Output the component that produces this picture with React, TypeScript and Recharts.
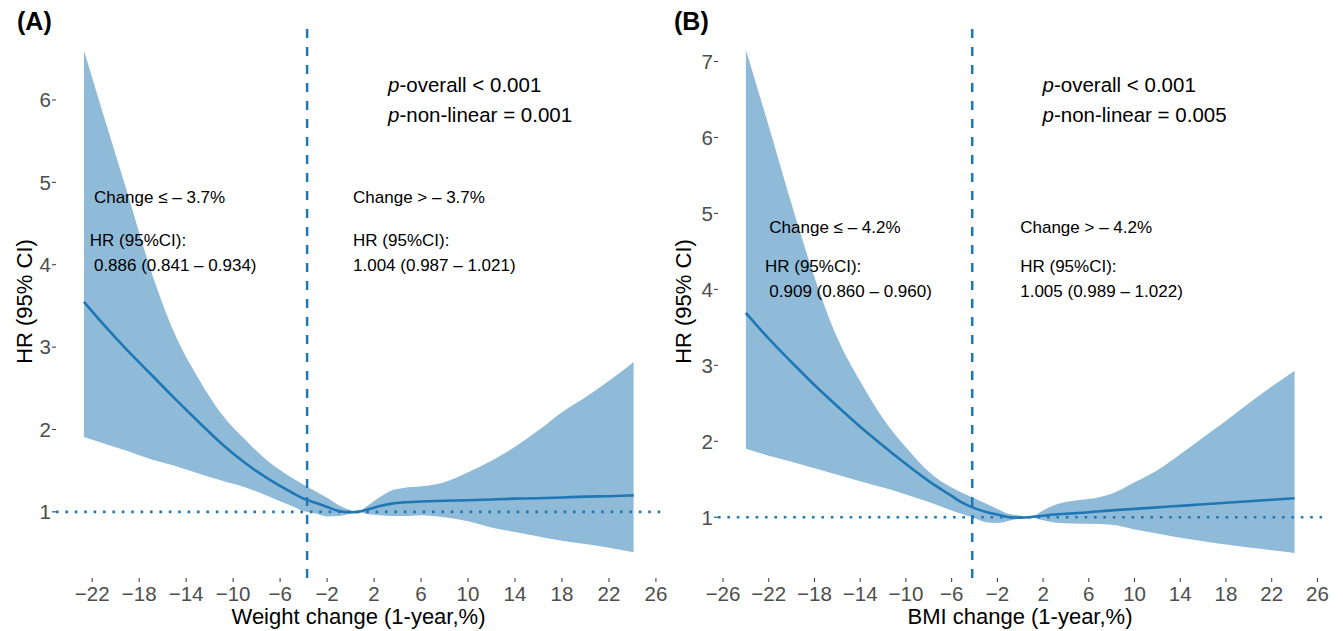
import React from 'react';
import { ComposedChart, Area, Line, XAxis, YAxis, ReferenceLine, ReferenceDot } from 'recharts';

// (A) weight change
const weightX = [-22.7, -21, -19, -17, -15, -13, -11, -9, -7, -5, -4, -3, -2, -1, 0, 0.6, 1.5, 2.5, 3.5, 4.5, 6, 8, 10, 12, 14, 16, 18, 20, 22, 24.1];
const weightHR = [3.55, 3.27, 2.96, 2.67, 2.38, 2.1, 1.83, 1.595, 1.4, 1.235, 1.16, 1.11, 1.06, 1.01, 0.995, 1.0, 1.03, 1.07, 1.1, 1.115, 1.125, 1.135, 1.14, 1.15, 1.16, 1.165, 1.175, 1.185, 1.19, 1.2];
const weightLo = [1.91, 1.83, 1.74, 1.64, 1.56, 1.47, 1.38, 1.3, 1.19, 1.07, 1.01, 0.98, 0.945, 0.95, 0.98, 1.0, 0.97, 0.96, 0.95, 0.95, 0.96, 0.935, 0.885, 0.81, 0.755, 0.7, 0.65, 0.61, 0.565, 0.51];
const weightHi = [6.6, 5.8, 4.87, 3.93, 3.17, 2.63, 2.19, 1.88, 1.61, 1.415, 1.33, 1.25, 1.17, 1.08, 1.02, 1.0, 1.08, 1.18, 1.26, 1.29, 1.31, 1.36, 1.48, 1.62, 1.79, 1.99, 2.21, 2.39, 2.59, 2.82];

// (B) BMI change
const bmiX = [-24, -22, -20, -18, -16, -14, -12, -10, -8, -6, -5, -4, -3, -2, -1, 0, 0.8, 2, 3, 4, 5, 6, 8, 10, 12, 14, 16, 18, 20, 22, 24];
const bmiHR = [3.69, 3.35, 3.04, 2.74, 2.46, 2.19, 1.94, 1.7, 1.475, 1.28, 1.185, 1.12, 1.07, 1.035, 1.0, 0.995, 1.0, 1.02, 1.035, 1.045, 1.055, 1.065, 1.09, 1.11, 1.13, 1.15, 1.17, 1.19, 1.21, 1.23, 1.25];
const bmiLo = [1.9, 1.81, 1.73, 1.645, 1.56, 1.475, 1.39, 1.3, 1.2, 1.09, 1.04, 0.99, 0.935, 0.925, 0.955, 0.98, 1.0, 0.96, 0.93, 0.92, 0.915, 0.915, 0.9, 0.84, 0.785, 0.73, 0.685, 0.64, 0.6, 0.565, 0.53];
const bmiHi = [7.15, 6.15, 5.12, 4.16, 3.36, 2.79, 2.3, 1.92, 1.6, 1.39, 1.315, 1.25, 1.18, 1.11, 1.045, 1.02, 1.0, 1.09, 1.16, 1.2, 1.225, 1.24, 1.31, 1.46, 1.62, 1.83, 2.05, 2.27, 2.5, 2.72, 2.93];

const weightTicks = [-22, -18, -14, -10, -6, -2, 2, 6, 10, 14, 18, 22, 26];
const bmiTicks = [-26, -22, -18, -14, -10, -6, -2, 2, 6, 10, 14, 18, 22, 26];
const weightYTicks = [1, 2, 3, 4, 5, 6];
const bmiYTicks = [1, 2, 3, 4, 5, 6, 7];

const weightStats = ['-overall < 0.001', '-non-linear = 0.001'];
const weightLeft = ['Change \u2264 \u2013 3.7%', 'HR (95%CI):', '0.886 (0.841 \u2013 0.934)'];
const weightRight = ['Change > \u2013 3.7%', 'HR (95%CI):', '1.004 (0.987 \u2013 1.021)'];
const bmiStats = ['-overall < 0.001', '-non-linear = 0.005'];
const bmiLeft = ['Change \u2264 \u2013 4.2%', 'HR (95%CI):', '0.909 (0.860 \u2013 0.960)'];
const bmiRight = ['Change > \u2013 4.2%', 'HR (95%CI):', '1.005 (0.989 \u2013 1.022)'];

const FONT = '"Liberation Sans", Arial, Helvetica, sans-serif';
const BLUE = '#1F78B4';
const BAND = '#8FBBD9';

const toRows = (xs: number[], hr: number[], lo: number[], hi: number[]) =>
  xs.map((x, i) => ({ x, hr: hr[i], lo: lo[i], hi: hi[i] }));

const fmt = (v: number) => (v < 0 ? '\u2212' + Math.abs(v) : String(v));

const textLabel = (value: string, size: number, italicP = false) => (props: any) => {
  const vb = props.viewBox || {};
  return (
    <text x={vb.x} y={vb.y} fontSize={size} fontFamily={FONT} fill="#000">
      {italicP && <tspan fontStyle="italic">p</tspan>}
      {value}
    </text>
  );
};

const Panel = ({ cfg }: any) => {
  const data = toRows(cfg.xs, cfg.hr, cfg.lo, cfg.hi);
  return (
    <ComposedChart
      width={cfg.width}
      height={631}
      data={data}
      margin={{ top: 25, right: cfg.right, bottom: 0, left: 0 }}
    >
      <XAxis
        dataKey="x"
        type="number"
        domain={cfg.xDomain}
        allowDataOverflow
        ticks={cfg.xTicks}
        tickFormatter={fmt}
        axisLine={false}
        tickLine={{ stroke: '#333', strokeWidth: 1 }}
        tickSize={4}
        tickMargin={4}
        height={53}
        tick={{ fill: '#4D4D4D', fontSize: 20.5, fontFamily: FONT }}
        label={(p: any) => {
          const vb = p.viewBox || {};
          return (
            <text x={vb.x + vb.width / 2} y={vb.y + 46} textAnchor="middle" fontSize={22} fontFamily={FONT} fill="#000">
              {cfg.xTitle}
            </text>
          );
        }}
      />
      <YAxis
        type="number"
        domain={cfg.yDomain}
        allowDataOverflow
        ticks={cfg.yTicks}
        axisLine={false}
        tickLine={{ stroke: '#333', strokeWidth: 1 }}
        tickSize={4}
        tickMargin={1}
        width={cfg.yWidth}
        tick={{ fill: '#4D4D4D', fontSize: 20.5, fontFamily: FONT }}
        label={(p: any) => {
          const vb = p.viewBox || {};
          const x = cfg.titleX;
          const y = vb.y + vb.height / 2;
          return (
            <text x={x} y={y} transform={`rotate(-90 ${x} ${y})`} textAnchor="middle" fontSize={22} fontFamily={FONT} fill="#000">
              HR (95% CI)
            </text>
          );
        }}
      />
      <Area
        dataKey={(d: any) => [d.lo, d.hi]}
        type="monotone"
        stroke="none"
        fill={BAND}
        fillOpacity={1}
        isAnimationActive={false}
      />
      <Line dataKey="hr" type="monotone" stroke={BLUE} strokeWidth={2.6} dot={false} isAnimationActive={false} />
      <ReferenceLine y={1} stroke={BLUE} strokeWidth={2.6} strokeDasharray="2.6 6.8" />
      <ReferenceLine x={cfg.cut} stroke={BLUE} strokeWidth={2.5} strokeDasharray="9 9" />
      {cfg.stats.map((s: string, i: number) => (
        <ReferenceDot key={'s' + i} x={cfg.statX} y={cfg.statY[i]} r={0} fill="none" stroke="none" label={textLabel(s, 20.5, true)} />
      ))}
      {cfg.left.map((s: string, i: number) => (
        <ReferenceDot key={'l' + i} x={cfg.leftX[i]} y={cfg.noteY[i]} r={0} fill="none" stroke="none" label={textLabel(s, 17)} />
      ))}
      {cfg.rightNotes.map((s: string, i: number) => (
        <ReferenceDot key={'r' + i} x={cfg.rightX} y={cfg.noteY[i]} r={0} fill="none" stroke="none" label={textLabel(s, 17)} />
      ))}
    </ComposedChart>
  );
};

const panelA = {
  xs: weightX, hr: weightHR, lo: weightLo, hi: weightHi,
  width: 670, right: 9, yWidth: 56, titleX: 32,
  xDomain: [-25.08, 26.43], yDomain: [0.197, 6.91],
  xTicks: weightTicks, yTicks: weightYTicks, cut: -3.7,
  xTitle: 'Weight change (1-year,%)',
  stats: weightStats, statX: 3.19, statY: [6.1, 5.73],
  left: weightLeft, leftX: [-21.85, -22.2, -21.85], noteY: [4.745, 4.227, 3.927],
  rightNotes: weightRight, rightX: 0.21,
};

const panelB = {
  xs: bmiX, hr: bmiHR, lo: bmiLo, hi: bmiHi,
  width: 673, right: 21, yWidth: 48, titleX: 21,
  xDomain: [-26.44, 26.4], yDomain: [0.2, 7.48],
  xTicks: bmiTicks, yTicks: bmiYTicks, cut: -4.2,
  xTitle: 'BMI change (1-year,%)',
  stats: bmiStats, statX: 1.95, statY: [6.596, 6.2],
  left: bmiLeft, leftX: [-21.95, -22.33, -21.95], noteY: [4.74, 4.23, 3.9],
  rightNotes: bmiRight, rightX: 0.0,
};

export default function App() {
  return (
    <div style={{ position: 'absolute', left: 0, top: 0, width: 1343, height: 631, background: '#fff' }}>
      <div style={{ position: 'absolute', left: 0, top: 0 }}>
        <Panel cfg={panelA} />
      </div>
      <div style={{ position: 'absolute', left: 670, top: 0 }}>
        <Panel cfg={panelB} />
      </div>
      <svg width={1343} height={631} style={{ position: 'absolute', left: 0, top: 0, pointerEvents: 'none' }}>
        <text x={17} y={30} fontSize={25} fontWeight="bold" fontFamily={FONT} fill="#000">(A)</text>
        <text x={674} y={30} fontSize={25} fontWeight="bold" fontFamily={FONT} fill="#000">(B)</text>
      </svg>
    </div>
  );
}
